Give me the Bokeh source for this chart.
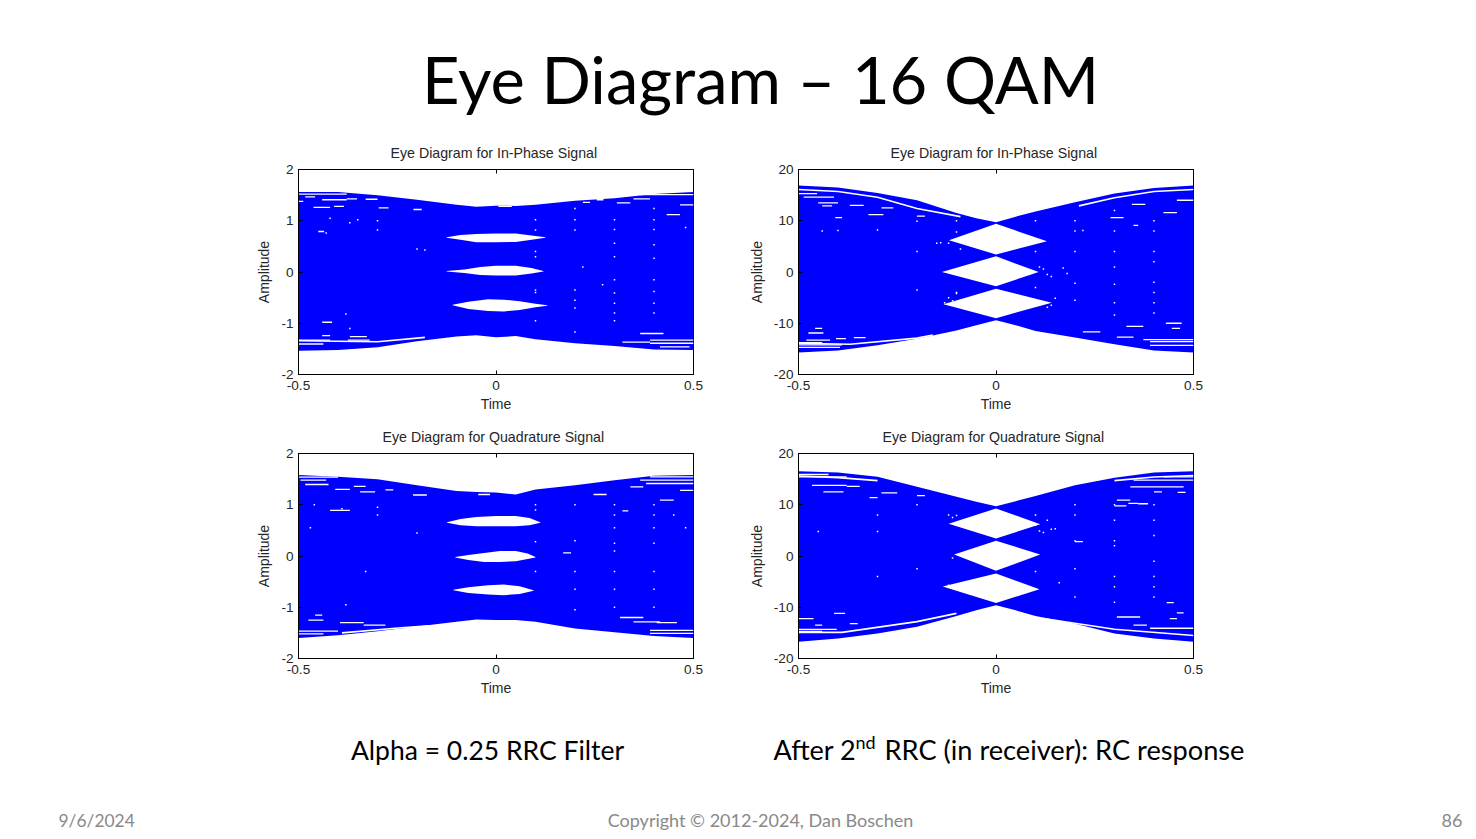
from bokeh.plotting import figure
from bokeh.layouts import column, row
from bokeh.models import Range1d, FixedTicker, LinearAxis, Spacer
from bokeh.core.properties import value
from bokeh.embed import file_html
from bokeh.resources import INLINE

SLIDE_TITLE = "Eye Diagram – 16 QAM"
CAPTION_L = "Alpha = 0.25 RRC Filter"
CAPTION_R = ["After 2", "nd", "RRC (in receiver): RC response"]
FOOT_DATE = "9/6/2024"
FOOT_COPY = "Copyright © 2012-2024, Dan Boschen"
FOOT_PAGE = "86"
TITLE_I = "Eye Diagram for In-Phase Signal"
TITLE_Q = "Eye Diagram for Quadrature Signal"

env_t = [-0.5, -0.4, -0.3, -0.2, -0.1, -0.05, 0, 0.05, 0.1, 0.2, 0.3, 0.4, 0.5]

# ---- Panel A: RRC, in-phase
a_up = [1.56, 1.56, 1.50, 1.41, 1.31, 1.275, 1.295, 1.29, 1.31, 1.39, 1.44, 1.52, 1.56]
a_lo = [-1.535, -1.52, -1.47, -1.35, -1.26, -1.235, -1.275, -1.25, -1.31, -1.39, -1.445, -1.51, -1.52]
a_e1_t = [-0.125, -0.09, -0.05, 0, 0.05, 0.09, 0.125]
a_e1_u = [0.68, 0.72, 0.74, 0.75, 0.75, 0.71, 0.68]
a_e1_l = [0.67, 0.63, 0.58, 0.58, 0.585, 0.63, 0.67]
a_e2_t = [-0.125, -0.08, -0.04, 0, 0.05, 0.09, 0.12]
a_e2_u = [0.02, 0.05, 0.10, 0.12, 0.12, 0.08, 0.02]
a_e2_l = [0.01, -0.02, -0.06, -0.07, -0.07, -0.03, 0.01]
a_e3_t = [-0.11, -0.07, -0.02, 0.02, 0.06, 0.10, 0.13]
a_e3_u = [-0.64, -0.58, -0.53, -0.54, -0.57, -0.62, -0.65]
a_e3_l = [-0.65, -0.72, -0.76, -0.77, -0.74, -0.69, -0.66]
a_d_t0 = [-0.5, -0.483, -0.44, -0.5, -0.378, -0.33, -0.462, -0.41, -0.297, -0.209, 0.006, 0.22, 0.255, 0.306, 0.348, 0.365, 0.432, 0.466, -0.5, -0.5, -0.37, -0.375, 0.32, 0.365, 0.39, 0.39, 0.415, -0.45, -0.44, -0.44]
a_d_t1 = [-0.378, -0.458, -0.378, -0.488, -0.352, -0.3, -0.42, -0.385, -0.272, -0.188, 0.04, 0.238, 0.272, 0.34, 0.39, 0.5, 0.466, 0.5, -0.42, -0.437, -0.327, -0.32, 0.39, 0.424, 0.5, 0.5, 0.49, -0.435, -0.415, -0.42]
a_d_y = [1.52, 1.465, 1.41, 1.38, 1.425, 1.42, 1.26, 1.28, 1.25, 1.22, 1.28, 1.36, 1.41, 1.35, 1.425, 1.51, 1.12, 1.31, -1.33, -1.405, -1.26, -1.33, -1.37, -1.2, -1.33, -1.39, -1.46, 0.79, -0.98, -1.24]
a_g_t = [-0.5, -0.3, -0.18]
a_g_y = [-1.34, -1.36, -1.275]
a_p_t = [0.2, 0.2, 0.2, 0.2, 0.2, 0.2, 0.2, 0.3, 0.3, 0.3, 0.3, 0.3, 0.3, 0.3, 0.3, 0.3, 0.4, 0.4, 0.4, 0.4, 0.4, 0.4, 0.4, 0.4, 0.4, 0.1, 0.1, 0.1, 0.1, -0.2, -0.3, -0.3, -0.38, 0.48, 0.22, 0.27, -0.35, -0.37, -0.43, -0.37, -0.18, -0.42, 0.1, 0.1, 0.1]
a_p_y = [1.24, 1.02, 0.82, -0.35, -0.55, -0.7, -1.17, 1.02, 0.83, 0.56, 0.3, -0.15, -0.41, -0.61, -0.8, -0.95, 1.24, 1.02, 0.83, 0.53, 0.27, -0.15, -0.38, -0.61, -0.8, 1.02, 0.82, -0.4, -0.95, 0.45, 0.82, 1.0, -0.82, 0.87, 0.1, -0.25, 1.02, 0.96, 0.76, -1.1, 0.43, 1.05, 0.4, 0.3, -0.35]

# ---- Panel B: RC, in-phase
b_up = [16.9, 16.5, 15.4, 14.0, 11.5, 10.5, 9.7, 10.8, 11.8, 13.6, 15.3, 16.4, 16.9]
b_lo = [-15.7, -15.3, -14.3, -13.0, -11.4, -10.4, -9.4, -10.4, -11.5, -12.8, -14.1, -15.3, -15.7]
b_e1_t = [-0.119, 0, 0.129]
b_e1_u = [6.2, 9.4, 6.0]
b_e1_l = [6.2, 3.4, 6.0]
b_e2_t = [-0.137, 0, 0.108]
b_e2_u = [0, 3.05, 0]
b_e2_l = [0, -2.8, 0]
b_e3_t = [-0.133, 0, 0.141]
b_e3_u = [-6.3, -3.25, -6.0]
b_e3_l = [-6.3, -9.0, -6.0]
b_d_t0 = [-0.5, -0.487, -0.45, -0.44, -0.37, -0.323, -0.407, -0.29, 0.29, 0.344, 0.424, 0.458, 0.33, 0.348, -0.475, -0.5, -0.48, -0.458, -0.405, -0.36, 0.22, 0.306, 0.373, 0.39, 0.39, 0.43, 0.445, -0.5, -0.5, -0.2]
b_d_t1 = [-0.453, -0.41, -0.4, -0.415, -0.335, -0.285, -0.39, -0.26, 0.323, 0.378, 0.458, 0.5, 0.373, 0.36, -0.437, -0.44, -0.42, -0.44, -0.38, -0.33, 0.264, 0.348, 0.5, 0.5, 0.5, 0.47, 0.466, -0.395, -0.39, -0.18]
b_d_y = [15.3, 14.6, 13.5, 12.9, 13.0, 11.2, 10.6, 12.5, 10.6, 13.2, 11.6, 14.0, -10.6, 9.1, -11.9, -13.8, -13.3, -11.0, -13.0, -12.8, -11.7, -12.7, -13.2, -13.6, -14.3, -10.0, -11.0, -14.7, -14.2, 10.9]
b_g1_t = [-0.5, -0.4, -0.3, -0.2, -0.09]
b_g1_y = [16.1, 15.7, 14.6, 12.4, 10.8]
b_g2_t = [-0.5, -0.37, -0.2, -0.16]
b_g2_y = [-13.9, -14.1, -12.9, -12.3]
b_g3_t = [0.21, 0.3, 0.4, 0.5]
b_g3_y = [12.9, 14.5, 15.7, 16.1]
b_p_t = [0.2, 0.2, 0.2, 0.2, 0.2, 0.3, 0.3, 0.3, 0.3, 0.3, 0.3, 0.3, 0.4, 0.4, 0.4, 0.4, 0.4, 0.4, 0.4, 0.4, -0.2, -0.2, -0.2, 0.1, 0.1, 0.1, -0.1, -0.1, -0.09, -0.1, -0.3, 0.17, 0.18, 0.11, 0.12, 0.13, 0.14, -0.12, -0.11, -0.10, -0.13, -0.12, 0.13, 0.14, 0.15, -0.15, -0.14, -0.44, -0.4, 0.22]
b_p_y = [10.0, 8.0, 4.0, -2.2, -5.5, 12.0, 8.0, 4.0, 1.0, -2.4, -6.0, -8.4, 10.0, 8.0, 4.0, 2.0, -2.0, -4.0, -6.0, -8.0, 9.9, 4.0, -3.5, 10.0, 4.0, -3.0, 10.0, 7.8, 4.5, -4.0, 8.2, 0.8, -0.3, 1.0, 0.6, -0.5, -0.9, -5.0, -5.6, -4.2, -6.0, 5.6, -6.9, -6.5, -5.1, 5.6, 5.7, 8.0, 8.1, 8.1]

# ---- Panel C: RRC, quadrature
c_up = [1.58, 1.545, 1.50, 1.38, 1.27, 1.25, 1.24, 1.20, 1.30, 1.38, 1.48, 1.565, 1.58]
c_lo = [-1.60, -1.545, -1.47, -1.375, -1.285, -1.24, -1.25, -1.25, -1.285, -1.415, -1.49, -1.56, -1.60]
c_e1_t = [-0.124, -0.09, -0.05, 0, 0.05, 0.085, 0.112]
c_e1_u = [0.66, 0.72, 0.76, 0.78, 0.78, 0.74, 0.66]
c_e1_l = [0.65, 0.60, 0.58, 0.58, 0.58, 0.60, 0.65]
c_e2_t = [-0.103, -0.07, -0.03, 0.01, 0.05, 0.08, 0.1]
c_e2_u = [-0.02, 0.02, 0.06, 0.10, 0.10, 0.05, -0.02]
c_e2_l = [-0.03, -0.08, -0.115, -0.115, -0.10, -0.06, -0.03]
c_e3_t = [-0.108, -0.07, -0.02, 0.02, 0.06, 0.095]
c_e3_u = [-0.66, -0.61, -0.57, -0.556, -0.59, -0.67]
c_e3_l = [-0.67, -0.72, -0.75, -0.765, -0.74, -0.68]
c_d_t0 = [-0.5, -0.495, -0.483, -0.407, -0.36, -0.344, -0.28, -0.21, -0.045, 0.247, 0.34, 0.39, 0.365, 0.38, 0.415, 0.466, -0.475, -0.458, -0.395, -0.335, -0.5, -0.5, 0.314, 0.348, 0.39, 0.39, 0.407, -0.42, 0.17, 0.32]
c_d_t1 = [-0.4, -0.43, -0.424, -0.37, -0.33, -0.306, -0.26, -0.175, -0.015, 0.28, 0.373, 0.5, 0.5, 0.5, 0.45, 0.5, -0.437, -0.44, -0.335, -0.28, -0.4, -0.437, 0.373, 0.415, 0.5, 0.5, 0.458, -0.37, 0.19, 0.335]
c_d_y = [1.54, 1.48, 1.395, 1.3, 1.36, 1.25, 1.29, 1.19, 1.2, 1.2, 1.35, 1.545, 1.48, 1.415, 1.09, 1.28, -1.25, -1.155, -1.3, -1.35, -1.465, -1.52, -1.2, -1.285, -1.45, -1.51, -1.3, 0.89, 0.06, 0.88]
c_g_t = [-0.39, -0.24, -0.17]
c_g_y = [-1.50, -1.40, -1.36]
c_p_t = [0.2, 0.2, 0.2, 0.2, 0.2, 0.3, 0.3, 0.3, 0.3, 0.3, 0.3, 0.3, 0.4, 0.4, 0.4, 0.4, 0.4, 0.4, 0.4, 0.1, 0.1, 0.1, 0.1, -0.2, -0.3, -0.3, -0.38, -0.33, 0.45, 0.48, -0.39, -0.47, 0.3, -0.46]
c_p_y = [1.0, 0.3, -0.3, -0.65, -1.05, 1.0, 0.8, 0.55, 0.25, -0.3, -0.65, -1.0, 1.0, 0.8, 0.55, 0.25, -0.3, -0.65, -1.0, 1.0, 0.9, 0.28, -0.3, 0.45, 0.8, 0.95, -0.95, -0.3, 0.8, 0.55, 0.92, 0.55, 0.1, 1.0]

# ---- Panel D: RC, quadrature
d_up = [16.55, 16.3, 15.45, 13.5, 11.55, 10.6, 9.7, 10.7, 11.7, 13.8, 15.25, 16.3, 16.55]
d_lo = [-16.75, -16.1, -15.1, -13.8, -11.7, -10.6, -9.6, -10.6, -11.7, -13.2, -15.1, -16.1, -16.75]
d_e1_t = [-0.12, 0, 0.112]
d_e1_u = [6.3, 9.27, 6.2]
d_e1_l = [6.3, 3.4, 6.2]
d_e2_t = [-0.106, 0, 0.112]
d_e2_u = [0.3, 3.0, 0.3]
d_e2_l = [0.3, -2.9, 0.3]
d_e3_t = [-0.135, 0, 0.11]
d_e3_u = [-5.95, -3.4, -6.5]
d_e3_l = [-5.95, -9.15, -6.5]
d_d_t0 = [-0.5, -0.5, -0.466, -0.378, -0.437, -0.29, 0.34, 0.348, 0.424, 0.335, 0.306, 0.36, 0.46, -0.5, -0.41, -0.458, -0.37, -0.5, -0.5, 0.306, 0.348, 0.44, 0.39, 0.432, 0.458, 0.2, -0.2, 0.3, 0.4, -0.32]
d_d_t1 = [-0.424, -0.378, -0.378, -0.345, -0.386, -0.25, 0.475, 0.5, 0.5, 0.36, 0.34, 0.385, 0.48, -0.462, -0.382, -0.44, -0.35, -0.403, -0.44, 0.365, 0.382, 0.458, 0.5, 0.45, 0.475, 0.22, -0.18, 0.33, 0.42, -0.3]
d_d_y = [15.9, 15.45, 13.8, 13.6, 12.5, 12.3, 13.5, 14.8, 15.45, 10.25, 10.9, 10.2, 12.4, -12.2, -11.2, -13.5, -13.2, -14.3, -14.7, -11.9, -13.5, -12.2, -14.1, -9.1, -11.1, 2.8, 11.8, 9.8, 12.5, 11.4]
d_g1_t = [-0.5, -0.39, -0.2, -0.1]
d_g1_y = [-14.9, -14.9, -12.8, -11.2]
d_g2_t = [0.12, 0.3, 0.5]
d_g2_y = [-12.2, -14.3, -15.5]
d_g3_t = [-0.5, -0.4, -0.3]
d_g3_y = [15.6, 15.3, 14.7]
d_g4_t = [0.3, 0.4, 0.5]
d_g4_y = [14.7, 15.4, 15.7]
d_p_t = [0.2, 0.2, 0.2, 0.2, 0.2, 0.3, 0.3, 0.3, 0.3, 0.3, 0.3, 0.3, 0.4, 0.4, 0.4, 0.4, 0.4, 0.4, 0.4, 0.1, 0.1, 0.1, -0.2, -0.2, -0.3, -0.3, -0.3, -0.1, -0.12, -0.11, 0.11, 0.12, 0.13, 0.14, -0.45, -0.12, -0.11, 0.15, 0.16]
d_p_y = [10.0, 8.0, 3.0, -2.5, -8.0, 10.0, 7.0, 3.0, 2.0, -4.0, -6.0, -9.0, 10.0, 7.0, 4.0, -1.0, -4.0, -6.0, -8.0, 8.0, 6.0, -3.0, 10.0, -2.5, 8.0, 4.8, -4.0, 7.9, 8.0, 7.5, 4.9, 4.6, 7.0, 5.2, 4.8, -5.7, -0.4, 5.3, -5.2]

BLUE = "#0000FF"
TXT = "#262626"
SANS = "Liberation Sans"


def panel(title, yhi, yticks, left, right, top, bottom, up, lo, eyes, dt0, dt1, dy, gaps, pt, py, title_gap, title_x):
    p = figure(width=left + 395 + right, height=top + 205 + bottom,
               x_range=Range1d(-0.5, 0.5), y_range=Range1d(-yhi, yhi),
               toolbar_location=None, output_backend="svg",
               min_border_left=left, min_border_right=right,
               min_border_top=top, min_border_bottom=bottom,
               title=title, x_axis_label="Time", y_axis_label="Amplitude")
    p.grid.visible = False
    p.outline_line_color = "black"
    p.outline_line_width = 1
    p.title.align = "left"
    p.title.offset = title_x
    p.title.text_font = SANS
    p.title.text_font_style = "normal"
    p.title.text_font_size = "14.2px"
    p.title.text_color = TXT
    p.title.standoff = title_gap
    p.varea(x=env_t, y1=lo, y2=up, fill_color=BLUE)
    for t, u, l in eyes:
        p.varea(x=t, y1=l, y2=u, fill_color="white")
    p.segment(x0=dt0, y0=dy, x1=dt1, y1=dy, line_color="white", line_width=1.3)
    for gt, gy in gaps:
        p.line(x=gt, y=gy, line_color="white", line_width=1.6)
    p.rect(x=pt, y=py, width=1.5, height=1.5, width_units="screen", height_units="screen",
           fill_color="white", line_color=None)
    for ax, ticks in ((p.xaxis[0], [-0.5, 0, 0.5]), (p.yaxis[0], yticks)):
        ax.ticker = FixedTicker(ticks=ticks)
        ax.major_label_overrides = {t: str(t) for t in ticks}
        ax.major_tick_in = 4
        ax.major_tick_out = 0
        ax.minor_tick_line_color = None
        ax.axis_line_color = "black"
        ax.major_label_text_font = SANS
        ax.major_label_text_font_size = "13.6px"
        ax.major_label_text_color = TXT
        ax.axis_label_text_font = SANS
        ax.axis_label_text_font_size = "14px"
        ax.axis_label_text_font_style = "normal"
        ax.axis_label_text_color = TXT
    p.xaxis[0].major_label_standoff = 6
    p.xaxis[0].axis_label_standoff = 3
    p.yaxis[0].major_label_standoff = 5
    p.yaxis[0].axis_label_standoff = 6
    topax = LinearAxis(ticker=FixedTicker(ticks=[-0.5, 0, 0.5]), major_tick_in=4, major_tick_out=0,
                       minor_tick_line_color=None, major_label_text_color=None, major_label_text_font_size="1px",
                       major_label_standoff=0, axis_line_color="black")
    p.add_layout(topax, "above")
    return p


def slide_text(p, x, y, txt, size, color="black", align="left", baseline="middle"):
    p.text(x=[x], y=[y], text=[txt], text_font=value("Lato"), text_font_size=value(size),
           text_color=color, text_align=align, text_baseline=baseline)


def blank(y0, h):
    p = figure(width=1470, height=h, toolbar_location=None, output_backend="svg",
               x_range=Range1d(0, 1470), y_range=Range1d(y0 + h, y0),
               x_axis_location=None, y_axis_location=None,
               min_border=0, outline_line_color=None)
    p.grid.visible = False
    return p


head = blank(0, 129)
slide_text(head, 760, 78, SLIDE_TITLE, "65px", align="center")

pa = panel(TITLE_I, 2, [-2, -1, 0, 1, 2], 60, 40, 40, 40, a_up, a_lo,
           [(a_e1_t, a_e1_u, a_e1_l), (a_e2_t, a_e2_u, a_e2_l), (a_e3_t, a_e3_u, a_e3_l)],
           a_d_t0, a_d_t1, a_d_y, [(a_g_t, a_g_y)], a_p_t, a_p_y, 17, 92)
pb = panel(TITLE_I, 20, [-20, -10, 0, 10, 20], 65, 35, 40, 40, b_up, b_lo,
           [(b_e1_t, b_e1_u, b_e1_l), (b_e2_t, b_e2_u, b_e2_l), (b_e3_t, b_e3_u, b_e3_l)],
           b_d_t0, b_d_t1, b_d_y, [(b_g1_t, b_g1_y), (b_g2_t, b_g2_y), (b_g3_t, b_g3_y)], b_p_t, b_p_y, 17, 92)
pc = panel(TITLE_Q, 2, [-2, -1, 0, 1, 2], 60, 40, 39, 47, c_up, c_lo,
           [(c_e1_t, c_e1_u, c_e1_l), (c_e2_t, c_e2_u, c_e2_l), (c_e3_t, c_e3_u, c_e3_l)],
           c_d_t0, c_d_t1, c_d_y, [(c_g_t, c_g_y)], c_p_t, c_p_y, 18, 84)
pd_ = panel(TITLE_Q, 20, [-20, -10, 0, 10, 20], 65, 35, 39, 47, d_up, d_lo,
            [(d_e1_t, d_e1_u, d_e1_l), (d_e2_t, d_e2_u, d_e2_l), (d_e3_t, d_e3_u, d_e3_l)],
            d_d_t0, d_d_t1, d_d_y, [(d_g1_t, d_g1_y), (d_g2_t, d_g2_y), (d_g3_t, d_g3_y), (d_g4_t, d_g4_y)], d_p_t, d_p_y, 18, 84)

foot = blank(705, 130)
slide_text(foot, 487, 749, CAPTION_L, "26.5px", align="center")
slide_text(foot, 773, 749, CAPTION_R[0], "27px")
slide_text(foot, 855, 741, CAPTION_R[1], "18px")
slide_text(foot, 884, 749, CAPTION_R[2], "27.2px")
slide_text(foot, 58, 820, FOOT_DATE, "17.4px", color="#898989")
slide_text(foot, 760, 819, FOOT_COPY, "18px", color="#898989", align="center")
slide_text(foot, 1462, 820, FOOT_PAGE, "18px", color="#898989", align="right")

page = column(head,
              row(Spacer(width=238, height=285), pa, pb),
              row(Spacer(width=238, height=291), pc, pd_),
              foot, spacing=0)
open("out.html", "w").write(file_html(page, INLINE))
